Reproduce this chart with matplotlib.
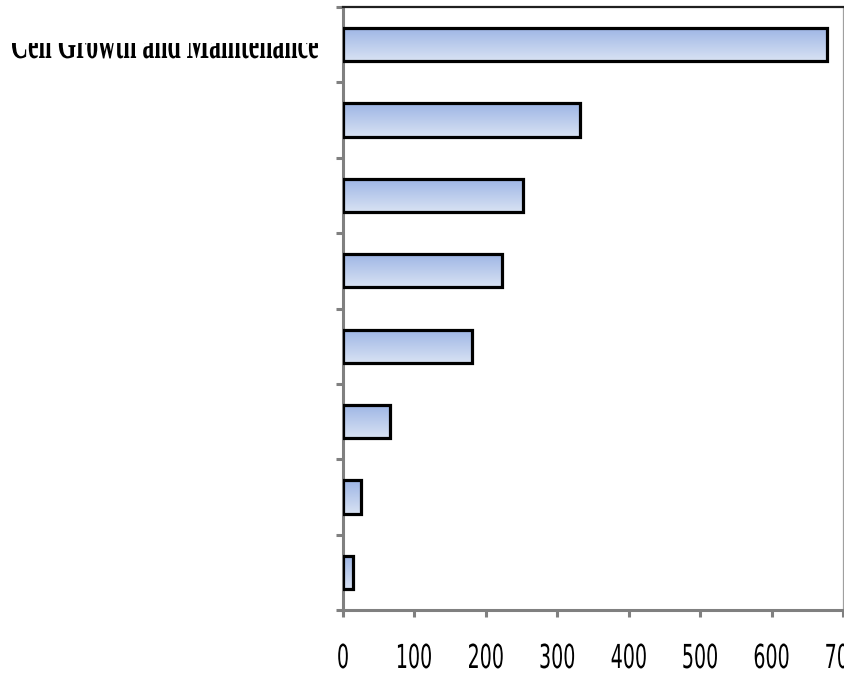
import numpy as np
import matplotlib
matplotlib.use("Agg")
import matplotlib.pyplot as plt
from matplotlib.colors import LinearSegmentedColormap
from matplotlib.textpath import TextPath
from matplotlib.font_manager import FontProperties
from matplotlib.patches import PathPatch
from matplotlib.transforms import Affine2D, IdentityTransform

# ---- data -------------------------------------------------------------
categories = ["Cell Growth and Maintenance", "", "", "", "", "", "", ""]
values = [678, 332, 252, 222, 180, 66, 25, 14]
x_ticks = [0, 100, 200, 300, 400, 500, 600, 700]

# ---- figure -----------------------------------------------------------
W, H, DPI = 845, 673, 100
fig = plt.figure(figsize=(W / DPI, H / DPI), dpi=DPI)
ax = fig.add_axes([343 / W, (H - 610) / H, 500 / W, 603 / H])

grad_cmap = LinearSegmentedColormap.from_list("barfill", ["#9db5e5", "#d8e2f3"])
gradient = np.linspace(0, 1, 64).reshape(-1, 1)

y = np.arange(len(values))
bar_h = 0.44
for yi, v in zip(y, values):
    ax.imshow(gradient, cmap=grad_cmap, aspect="auto", origin="upper",
              extent=(0, v, yi + bar_h / 2, yi - bar_h / 2), zorder=2,
              interpolation="bilinear")
ax.barh(y, values, height=bar_h, facecolor="none", edgecolor="black",
        linewidth=2.3, zorder=3)

ax.set_xlim(0, 700)
ax.set_ylim(len(values) - 0.5, -0.5)

# spines
for s in ("left", "bottom"):
    ax.spines[s].set_color("#808080")
    ax.spines[s].set_linewidth(2.2)
ax.spines["top"].set_color("#202020")
ax.spines["top"].set_linewidth(1.6)
ax.spines["right"].set_color("#a0a0a0")
ax.spines["right"].set_linewidth(0.9)

# ticks: boundaries between categories on y, hundreds on x
ax.set_yticks(np.arange(len(values) + 1) - 0.5)
ax.set_yticklabels([])
ax.set_xticks(x_ticks)
ax.set_xticklabels([])
ax.tick_params(axis="both", direction="out", length=5, width=2.2,
               color="#808080")

fig.canvas.draw()


def squeezed_path(s, x_px, base_px, sx, sy, ha="center", fprop=None):
    """Return a text path scaled independently in x and y (pixels)."""
    tp = TextPath((0, 0), s, size=1, prop=fprop)
    ext = tp.get_extents()
    if ha == "center":
        x0 = x_px - sx * (ext.x0 + ext.x1) / 2
    elif ha == "right":
        x0 = x_px - sx * ext.x1
    else:
        x0 = x_px - sx * ext.x0
    tr = Affine2D().scale(sx, sy).translate(x0, base_px)
    return tr.transform_path(tp)


# x tick labels: tall narrow digits
tick_font = FontProperties(family="DejaVu Sans")
ref = TextPath((0, 0), "100", size=1, prop=tick_font).get_extents()
sy_tick = 25 / ref.height
sx_tick = 33 / ref.width
for t in x_ticks:
    xp, _ = ax.transData.transform((t, 0))
    p = squeezed_path(str(t), xp, H - 668, sx_tick, sy_tick, "center",
                      tick_font)
    fig.add_artist(PathPatch(p, facecolor="black", edgecolor="none",
                             transform=IdentityTransform(), clip_on=False))

# category label: only the first one shows, cut off above its x-height
lab_font = FontProperties(family="Liberation Serif", weight="bold")
lext = TextPath((0, 0), categories[0], size=1, prop=lab_font).get_extents()
xh = TextPath((0, 0), "x", size=1, prop=lab_font).get_extents().height
sy_lab = 20 / xh
sx_lab = 306 / lext.width
base = H - 58
label_ax = fig.add_axes([0, (base - 8) / H, 340 / W, (H - 43 - base + 8) / H])
label_ax.set_axis_off()
p = squeezed_path(categories[0], 318, base, sx_lab, sy_lab, "right", lab_font)
label_patch = PathPatch(p, facecolor="black", edgecolor="none",
                        transform=IdentityTransform())
label_ax.add_artist(label_patch)
label_patch.set_clip_path(label_ax.patch)

fig.savefig("out.png", dpi=DPI)
